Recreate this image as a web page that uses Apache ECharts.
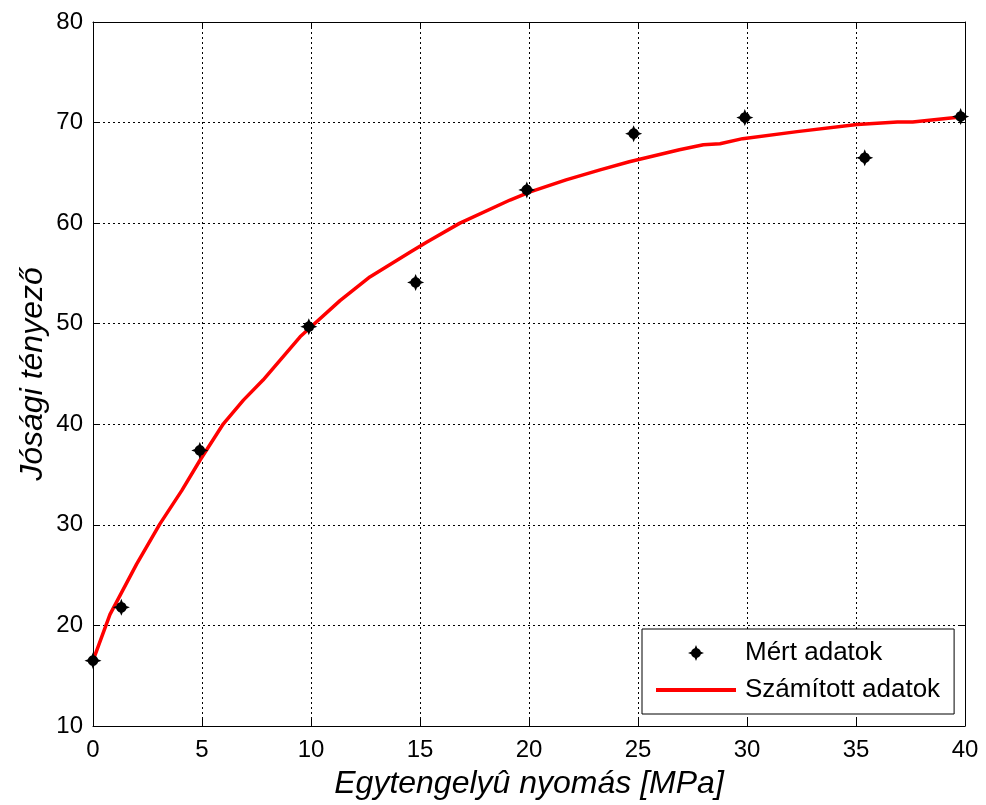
<!DOCTYPE html>
<html>
<head>
<meta charset="utf-8">
<script src="https://cdn.jsdelivr.net/npm/echarts@6/dist/echarts.min.js"></script>
<style>html,body{margin:0;padding:0;background:#fff}#c{width:986px;height:805px}</style>
</head>
<body>
<div id="c"></div>
<script>
// Measured data (Mért adatok)
const measuredX = [0, 1.3, 4.9, 9.9, 14.8, 19.9, 24.8, 29.9, 35.4, 39.8];
const measuredY = [16.5, 21.8, 37.4, 49.7, 54.1, 63.3, 68.9, 70.5, 66.5, 70.6];
// Calculated curve (Számított adatok)
const curveX = [0, 0.78, 2.0, 3.07, 4.07, 4.9, 5.98, 6.9, 7.8, 9.5, 11.33, 12.7, 14.54, 15.3, 16.83, 19.13, 20.05, 21.7, 23.26, 24.6, 26.9, 28.0, 28.76, 29.8, 32.3, 35.05, 36.9, 37.6, 40];
const curveY = [16.5, 21.1, 26.1, 30.1, 33.4, 36.4, 40.05, 42.4, 44.4, 48.7, 52.3, 54.65, 57.1, 58.1, 60.0, 62.3, 63.1, 64.3, 65.3, 66.1, 67.3, 67.8, 67.9, 68.4, 69.1, 69.8, 70.05, 70.05, 70.6];
const seriesNames = ['Mért adatok', 'Számított adatok'];
const xTitle = 'Egytengelyû nyomás [MPa]';
const yTitle = 'Jósági tényező';

const FONT = '"Liberation Sans", Arial, sans-serif';
const starPath = 'path://M0,-9 L1.45,-5.41 L2.8,-4.85 L3.96,-3.96 L4.85,-2.8 L5.41,-1.45 L9,0 L5.41,1.45 L4.85,2.8 L3.96,3.96 L2.8,4.85 L1.45,5.41 L0,9 L-1.45,5.41 L-2.8,4.85 L-3.96,3.96 L-4.85,2.8 L-5.41,1.45 L-9,0 L-5.41,-1.45 L-4.85,-2.8 L-3.96,-3.96 L-2.8,-4.85 L-1.45,-5.41 Z';
const lineIcon = 'path://M0,0 L80,0 L80,4 L0,4 Z';

const chart = echarts.init(document.getElementById('c'), null, {renderer: 'canvas'});
const gridLine = {show: true, lineStyle: {color: '#000', width: 1, type: [2, 3]}};
const axLine = {show: true, onZero: false, lineStyle: {color: '#000', width: 1}};
const tick = {show: true, inside: true, length: 7, lineStyle: {color: '#000'}};
chart.setOption({
  animation: false,
  backgroundColor: '#fff',
  grid: {left: 93, right: 21, top: 22, bottom: 73, containLabel: false},
  xAxis: [{
    type: 'value', min: 0, max: 40, interval: 5, position: 'bottom',
    axisLine: axLine, axisTick: tick, splitLine: gridLine,
    axisLabel: {color: '#000', fontSize: 24, fontFamily: FONT, margin: 12},
    name: xTitle, nameLocation: 'middle', nameGap: 42, nameMoveOverlap: false,
    nameTextStyle: {color: '#000', fontSize: 32, fontStyle: 'italic', fontFamily: FONT}
  }, {
    type: 'value', min: 0, max: 40, interval: 5, position: 'top',
    axisLine: axLine, axisTick: tick, splitLine: {show: false}, axisLabel: {show: false}
  }],
  yAxis: [{
    type: 'value', min: 10, max: 80, interval: 10, position: 'left',
    axisLine: axLine, axisTick: tick, splitLine: gridLine,
    axisLabel: {color: '#000', fontSize: 24, fontFamily: FONT, margin: 10},
    name: yTitle, nameLocation: 'middle', nameGap: 44, nameMoveOverlap: false,
    nameTextStyle: {color: '#000', fontSize: 32, fontStyle: 'italic', fontFamily: FONT}
  }, {
    type: 'value', min: 10, max: 80, interval: 10, position: 'right',
    axisLine: axLine, axisTick: tick, splitLine: {show: false}, axisLabel: {show: false}
  }],
  legend: {
    orient: 'vertical', left: 642, top: 629,
    padding: [11, 14, 11, 14], itemGap: 11,
    backgroundColor: '#fff', borderColor: '#000', borderWidth: 1, borderRadius: 0,
    itemWidth: 80, itemHeight: 16,
    textStyle: {color: '#000', fontSize: 26, fontFamily: FONT, padding: [0, 0, 0, 4]},
    data: [{name: seriesNames[0], icon: starPath}, {name: seriesNames[1], icon: lineIcon}]
  },
  series: [{
    name: seriesNames[1], type: 'line', xAxisIndex: 0, yAxisIndex: 0,
    data: curveX.map((x, i) => [x, curveY[i]]),
    showSymbol: false, symbol: 'none',
    lineStyle: {color: '#ff0000', width: 3.5}, itemStyle: {color: '#ff0000'}, z: 3
  }, {
    name: seriesNames[0], type: 'scatter', xAxisIndex: 0, yAxisIndex: 0,
    data: measuredX.map((x, i) => [x, measuredY[i]]),
    symbol: starPath, symbolSize: 17,
    itemStyle: {color: '#000', opacity: 1}, z: 4
  }]
});
</script>
</body>
</html>
